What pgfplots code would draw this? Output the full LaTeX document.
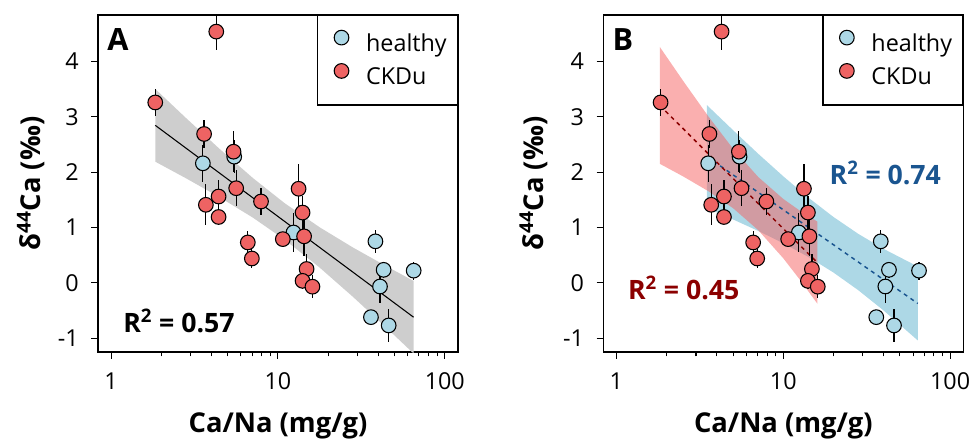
\documentclass[border=0pt]{standalone}
\usepackage{fontspec}
\setmainfont{Open Sans}
\usepackage{pgfplots}
\usepackage{pgfplotstable}
\pgfplotsset{compat=1.18}

\definecolor{healthy}{HTML}{ADD8E6}
\definecolor{ckdu}{HTML}{EE6363}
\definecolor{bandgray}{HTML}{CECECE}
\definecolor{hline}{HTML}{1A5590}
\definecolor{cline}{HTML}{8B0000}
\definecolor{redband}{HTML}{F56060}

% x = Ca/Na (mg/g), y = d44Ca, ey = error
\pgfplotstableread{
x     y      ey
3.55  2.16   0.33
5.47  2.28   0.30
12.4  0.91   0.35
38.4  0.75   0.21
43.0  0.235  0.15
65.1  0.22   0.16
40.9  -0.066 0.30
36.1  -0.62  0.08
46.1  -0.77  0.30
}\healthytab

\pgfplotstableread{
x     y      ey
4.27  4.54   0.34
1.84  3.26   0.25
3.61  2.69   0.25
5.42  2.37   0.37
5.62  1.71   0.33
4.41  1.56   0.30
3.70  1.41   0.37
4.41  1.19   0.12
7.92  1.47   0.25
13.3  1.70   0.44
14.05 1.27   0.30
14.35 0.84   0.36
10.7  0.79   0.10
6.60  0.73   0.21
6.98  0.44   0.17
14.85 0.25   0.28
14.05 0.036  0.15
16.1  -0.07  0.21
}\ckdutab

\newcommand{\tfont}{\fontsize{17.5}{20}\selectfont}
\newcommand{\lfont}{\bfseries\fontsize{20.5}{24}\selectfont}

\begin{document}
\begin{tikzpicture}
% ---------------- panel A
\begin{axis}[at={(0,0)}, anchor=south west,
    scale only axis, width=270pt, height=252.75pt,
    xmode=log, xmin=0.835, xmax=120, ymin=-1.25, ymax=4.84,
    xtick={1,10,100}, xticklabels={1,10,100},
    minor xtick={2,3,4,5,6,7,8,9,20,30,40,50,60,70,80,90},
    ytick={-1,0,1,2,3,4}, yticklabels={-1,0,1,2,3,4},
    tick align=outside, xtick pos=bottom, ytick pos=left,
    major tick length=5pt, minor tick length=3.2pt,
    tick style={black, line width=0.8pt},
    axis line style={line width=0.9pt},
    tick label style={font=\tfont},
    xticklabel style={yshift=-7pt},
    yticklabel style={xshift=-6pt},
    xlabel={Ca/Na (mg/g)}, ylabel={δ\textsuperscript{44}Ca (‰)},
    xlabel style={font=\lfont, at={(axis description cs:0.5,-0.2374)}, anchor=base},
    ylabel style={font=\lfont, at={(axis description cs:-0.186,0.5)}, anchor=center},
    legend style={at={(1,1)}, anchor=north east, draw=black, line width=0.9pt,
      fill=white, font=\fontsize{17.5}{21}\selectfont, inner xsep=8pt, inner ysep=11pt,
      row sep=5pt, column sep=8.5pt,
      nodes={inner sep=0pt, text height=13pt, text depth=4pt}},
    legend cell align=left,
    legend image code/.code={\path (0pt,0pt) (19pt,0pt);
      \draw[#1] plot coordinates {(9.5pt,6pt)};},
  ]
\addplot[fill=bandgray, draw=none, forget plot] coordinates {
  (1.841,3.503) (2.818,2.976) (4.467,2.421) (7.079,1.894) (10.965,1.44)
  (17.78,1.004) (28.18,0.638) (44.67,0.30) (65.0,0.035)
  (65.0,-1.277) (44.67,-0.812) (28.18,-0.254) (17.78,0.276) (10.965,0.78)
  (7.079,1.178) (4.467,1.547) (2.818,1.888) (1.841,2.189)};
\addplot[black, line width=0.8pt, forget plot] coordinates {(1.841,2.846) (65.0,-0.621)};
\addplot[only marks, mark=none, forget plot, error bars/.cd, y dir=both, y explicit,
  error bar style={black, line width=0.9pt}, error mark=none]
  table[x=x, y=y, y error=ey] {\healthytab};
\addplot[only marks, mark=none, forget plot, error bars/.cd, y dir=both, y explicit,
  error bar style={black, line width=0.9pt}, error mark=none]
  table[x=x, y=y, y error=ey] {\ckdutab};
\addplot[only marks, mark=*, mark size=5.5pt,
  mark options={fill=healthy, draw=black, line width=0.8pt}] table[x=x, y=y] {\healthytab};
\addplot[only marks, mark=*, mark size=5.5pt,
  mark options={fill=ckdu, draw=black, line width=0.8pt}] table[x=x, y=y] {\ckdutab};
\legend{healthy, CKDu}
\node[anchor=west, inner sep=0pt, font=\bfseries\fontsize{23}{26}\selectfont] at (rel axis cs:0.025,0.926) {A};
\node[anchor=west, inner sep=0pt, font=\bfseries\fontsize{20}{24}\selectfont] at (axis cs:1.18,-0.68) {R\textsuperscript{2} = 0.57};
\end{axis}
% ---------------- panel B
\begin{axis}[at={(379pt,0)}, anchor=south west,
    scale only axis, width=270pt, height=252.75pt,
    xmode=log, xmin=0.835, xmax=120, ymin=-1.25, ymax=4.84,
    xtick={1,10,100}, xticklabels={1,10,100},
    minor xtick={2,3,4,5,6,7,8,9,20,30,40,50,60,70,80,90},
    ytick={-1,0,1,2,3,4}, yticklabels={-1,0,1,2,3,4},
    tick align=outside, xtick pos=bottom, ytick pos=left,
    major tick length=5pt, minor tick length=3.2pt,
    tick style={black, line width=0.8pt},
    axis line style={line width=0.9pt},
    tick label style={font=\tfont},
    xticklabel style={yshift=-7pt},
    yticklabel style={xshift=-6pt},
    xlabel={Ca/Na (mg/g)}, ylabel={δ\textsuperscript{44}Ca (‰)},
    xlabel style={font=\lfont, at={(axis description cs:0.5,-0.2374)}, anchor=base},
    ylabel style={font=\lfont, at={(axis description cs:-0.194,0.5)}, anchor=center},
    legend style={at={(1,1)}, anchor=north east, draw=black, line width=0.9pt,
      fill=white, font=\fontsize{17.5}{21}\selectfont, inner xsep=8pt, inner ysep=11pt,
      row sep=5pt, column sep=8.5pt,
      nodes={inner sep=0pt, text height=13pt, text depth=4pt}},
    legend cell align=left,
    legend image code/.code={\path (0pt,0pt) (19pt,0pt);
      \draw[#1] plot coordinates {(9.5pt,6pt)};},
  ]
\addplot[fill=healthy, draw=none, forget plot] coordinates {
  (3.491,3.21) (5.012,2.756) (7.079,2.332) (10,1.925) (14.125,1.541)
  (19.953,1.192) (28.184,0.884) (39.811,0.616) (64,0.295)
  (64,-1.041) (39.811,-0.496) (28.184,-0.134) (19.953,0.188) (14.125,0.469)
  (10,0.715) (7.079,0.938) (5.012,1.144) (3.491,1.35)};
\addplot[fill=redband, fill opacity=0.5, draw=none, forget plot] coordinates {
  (1.820,4.263) (2.512,3.649) (3.548,3.012) (5.012,2.419) (7.079,1.912)
  (10,1.516) (12.589,1.303) (15.996,1.107)
  (15.996,-0.375) (12.589,0.055) (10,0.444) (7.079,0.952) (5.012,1.347)
  (3.548,1.658) (2.512,1.923) (1.820,2.151)};
\addplot[hline, line width=1.1pt, dash pattern=on 3pt off 3pt, forget plot]
  coordinates {(3.491,2.28) (64,-0.373)};
\addplot[cline, line width=1.1pt, dash pattern=on 3pt off 3pt, forget plot]
  coordinates {(1.820,3.207) (15.996,0.366)};
\addplot[only marks, mark=none, forget plot, error bars/.cd, y dir=both, y explicit,
  error bar style={black, line width=0.9pt}, error mark=none]
  table[x=x, y=y, y error=ey] {\healthytab};
\addplot[only marks, mark=none, forget plot, error bars/.cd, y dir=both, y explicit,
  error bar style={black, line width=0.9pt}, error mark=none]
  table[x=x, y=y, y error=ey] {\ckdutab};
\addplot[only marks, mark=*, mark size=5.5pt,
  mark options={fill=healthy, draw=black, line width=0.8pt}] table[x=x, y=y] {\healthytab};
\addplot[only marks, mark=*, mark size=5.5pt,
  mark options={fill=ckdu, draw=black, line width=0.8pt}] table[x=x, y=y] {\ckdutab};
\legend{healthy, CKDu}
\node[anchor=west, inner sep=0pt, font=\bfseries\fontsize{23}{26}\selectfont] at (rel axis cs:0.025,0.926) {B};
\node[anchor=west, inner sep=0pt, text=hline, font=\bfseries\fontsize{20}{24}\selectfont] at (axis cs:18.9,1.99) {R\textsuperscript{2} = 0.74};
\node[anchor=west, inner sep=0pt, text=cline, font=\bfseries\fontsize{20}{24}\selectfont] at (axis cs:1.17,-0.09) {R\textsuperscript{2} = 0.45};
\end{axis}
\pgfresetboundingbox
\useasboundingbox (-73.5pt,-66pt) rectangle (657.75pt,264pt);
\end{tikzpicture}
\end{document}
